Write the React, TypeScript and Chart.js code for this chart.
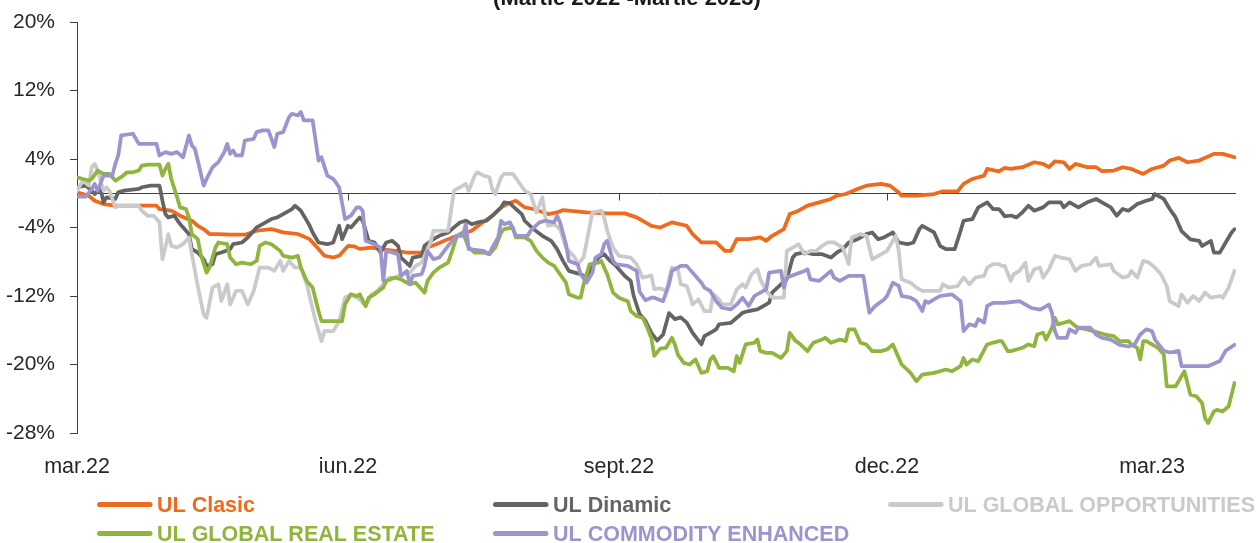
import React, { useEffect, useRef } from "react";
import { Chart, registerables } from "chart.js";

Chart.register(...registerables);

// ---------- labels ----------
const chartTitle = "(Martie 2022 -Martie 2023)";
const seriesNames = [
  "UL Clasic",
  "UL Dinamic",
  "UL GLOBAL OPPORTUNITIES",
  "UL GLOBAL REAL ESTATE",
  "UL COMMODITY ENHANCED",
];
const seriesColors = ["#EE6A1C", "#646464", "#CACACA", "#8FB53C", "#9C94CE"];

// x axis: days since 1 March 2022
const xTickDays = [0, 92, 184, 275, 365];
const xTickLabels = ["mar.22", "iun.22", "sept.22", "dec.22", "mar.23"];
const xMinDay = 0;
const xMaxDay = 393.5;

// y axis (percent)
const yTickValues = [-28, -20, -12, -4, 4, 12, 20];
const yMin = -28;
const yMax = 20;

// ---------- series ----------
const clasicDays = [
  0, 4, 6, 9, 13, 21, 27, 28, 32, 35,
  39, 41, 43, 45, 48, 52, 57, 61, 66, 70,
  75, 79, 82, 84, 87, 89, 92, 94, 96, 100,
  103, 108, 112, 117, 119, 122, 126, 129, 134, 137,
  141, 144, 146, 149, 152, 155, 160, 163, 165, 173,
  180, 186, 190, 193, 195, 198, 202, 207, 209, 212,
  217, 220, 222, 224, 228, 232, 234, 236, 240, 242,
  245, 248, 252, 256, 258, 261, 265, 268, 273, 276,
  279, 280, 285, 291, 294, 299, 301, 304, 308, 309,
  313, 315, 317, 321, 325, 328, 330, 332, 335, 337,
  339, 343, 346, 348, 352, 355, 358, 362, 365, 369,
  371, 374, 377, 381, 386, 389, 393,
];
const clasicValues = [
  0.1, -0.3, -0.87, -1.26, -1.45, -1.45, -1.45, -1.85, -2.04, -2.62,
  -3.2, -3.8, -4.18, -4.76, -4.76, -4.84, -4.84, -4.38, -4.18, -4.57,
  -4.76, -5.36, -6.52, -7.3, -7.5, -7.3, -6.15, -6.2, -6.5, -6.34,
  -6.53, -6.73, -6.92, -6.92, -6.34, -5.95, -5.36, -4.97, -4.38, -3.6,
  -2.63, -1.65, -1.26, -0.87, -1.65, -1.84, -2.43, -2.24, -1.96, -2.24,
  -2.35, -2.35, -2.82, -3.4, -3.8, -4.0, -3.4, -3.8, -4.77, -5.75,
  -5.75, -6.73, -6.73, -5.36, -5.36, -5.16, -5.55, -4.97, -4.19, -2.43,
  -2.04, -1.45, -1.06, -0.67, -0.28, -0.09, 0.5, 0.89, 1.09, 0.89,
  0.1, -0.28, -0.28, -0.09, 0.23, 0.23, 1.09, 1.67, 2.06, 2.84,
  2.55, 2.96, 2.84, 3.04, 3.62, 3.43, 3.04, 3.73, 3.62, 2.84,
  3.43, 3.04, 3.04, 2.57, 2.65, 3.04, 2.84, 2.26, 2.84, 3.23,
  3.82, 4.13, 3.62, 3.82, 4.6, 4.6, 4.21,
];

const dinamicDays = [
  0, 3, 5, 6, 8, 9, 10, 13, 14, 16,
  21, 22, 25, 28, 29, 30, 31, 33, 35, 38,
  39, 41, 43, 44, 46, 47, 49, 52, 53, 56,
  58, 60, 61, 63, 66, 68, 70, 73, 74, 76,
  78, 79, 80, 82, 85, 87, 89, 90, 92, 93,
  95, 96, 97, 99, 101, 103, 105, 107, 109, 110,
  113, 114, 117, 118, 121, 123, 126, 128, 130, 132,
  134, 136, 139, 141, 144, 145, 147, 149, 151, 152,
  155, 158, 161, 163, 165, 167, 169, 171, 173, 175,
  177, 179, 181, 183, 186, 188, 189, 191, 193, 195,
  197, 199, 201, 203, 205, 207, 209, 212, 213, 215,
  217, 218, 222, 224, 226, 228, 231, 233, 235, 236,
  239, 241, 243, 244, 247, 250, 253, 256, 258, 260,
  262, 265, 268, 270, 272, 274, 276, 277, 279, 282,
  284, 286, 287, 291, 293, 295, 298, 300, 301, 304,
  306, 308, 309, 311, 313, 314, 315, 317, 319, 321,
  323, 325, 328, 330, 334, 335, 337, 340, 343, 346,
  348, 351, 353, 355, 357, 360, 363, 365, 366, 369,
  371, 373, 375, 378, 381, 382, 385, 386, 388, 390,
  392, 393,
];
const dinamicValues = [
  0.7, 0.89, 0.3, -0.09, 0.5, -1.07, -0.48, -0.67, 0.11, 0.3,
  0.5, 0.7, 0.89, 0.89, -0.87, -2.43, -2.82, -2.62, -3.6, -4.77,
  -6.53, -6.92, -7.7, -8.48, -8.29, -7.12, -6.92, -6.53, -5.95, -5.75,
  -5.17, -4.38, -3.99, -3.6, -3.01, -2.82, -2.43, -1.84, -1.45, -2.04,
  -3.2, -3.8, -4.58, -5.75, -5.95, -5.75, -3.8, -5.36, -3.8, -3.99,
  -3.2, -2.82, -3.2, -5.55, -5.75, -6.92, -5.75, -5.55, -6.14, -7.51,
  -8.49, -7.51, -7.32, -6.14, -5.36, -4.97, -4.58, -3.99, -3.41, -3.21,
  -3.6, -3.41, -3.21, -2.63, -1.65, -1.06, -1.18, -1.84, -2.43, -3.21,
  -4.19, -4.97, -5.55, -6.53, -7.9, -9.07, -9.27, -9.46, -9.85, -8.49,
  -7.51, -7.12, -7.9, -8.49, -9.66, -10.24, -12.0, -14.1, -14.9, -16.3,
  -17.2, -16.5, -14.0, -14.7, -14.5, -15.1, -16.3, -17.66, -16.7, -16.3,
  -15.9, -15.3, -15.13, -14.54, -13.96, -13.76, -13.57, -13.17, -12.78, -11.6,
  -10.63, -10.05, -7.51, -7.12, -6.92, -7.12, -7.12, -7.51, -6.92, -6.53,
  -5.75, -5.36, -4.77, -4.58, -5.36, -5.16, -4.77, -4.58, -5.75, -5.95,
  -5.75, -4.19, -3.8, -4.58, -6.14, -6.53, -6.53, -4.38, -3.21, -3.02,
  -1.65, -1.26, -1.06, -1.84, -1.85, -2.24, -2.7, -2.6, -2.82, -2.23,
  -1.45, -2.04, -1.65, -1.06, -1.06, -1.65, -1.06, -1.65, -1.06, -0.67,
  -1.06, -1.65, -2.63, -1.84, -2.04, -1.26, -0.87, -0.67, -0.09, -0.67,
  -1.84, -2.82, -4.41, -5.38, -5.57, -6.16, -5.57, -6.93, -6.93, -5.75,
  -4.58, -4.19,
];

const globalOppDays = [
  0, 2, 4, 5, 6, 7, 9, 10, 11, 13,
  14, 17, 21, 22, 24, 26, 28, 29, 30, 31,
  32, 34, 36, 38, 39, 41, 43, 44, 46, 48,
  49, 51, 52, 54, 56, 58, 60, 62, 65, 67,
  69, 70, 72, 74, 76, 78, 81, 83, 84, 87,
  89, 91, 93, 96, 98, 100, 102, 104, 106, 108,
  110, 113, 115, 117, 120, 121, 124, 126, 127, 128,
  130, 132, 133, 135, 136, 138, 140, 141, 142, 144,
  145, 148, 150, 152, 154, 156, 158, 159, 160, 162,
  164, 166, 169, 170, 172, 174, 175, 178, 179, 180,
  182, 184, 188, 190, 192, 195, 196, 198, 200, 202,
  204, 205, 207, 208, 209, 211, 213, 215, 216, 218,
  219, 222, 224, 226, 227, 229, 231, 232, 234, 236,
  240, 241, 243, 245, 247, 249, 251, 253, 255, 257,
  260, 262, 263, 266, 268, 270, 271, 275, 278, 279,
  280, 283, 285, 287, 293, 294, 296, 299, 301, 303,
  305, 308, 309, 311, 313, 314, 315, 317, 318, 320,
  322, 323, 325, 327, 328, 330, 332, 334, 337, 339,
  341, 344, 346, 347, 351, 352, 355, 357, 358, 360,
  362, 364, 366, 368, 370, 371, 373, 374, 375, 377,
  379, 381, 383, 385, 388, 389, 391, 393,
];
const globalOppValues = [
  0.3, 1.48, 0.89, 3.04, 3.43, 2.65, 0.3, 0.7, 0.3, -1.65,
  -1.46, -1.46, -1.46, -2.04, -2.63, -2.63, -3.4, -7.7, -6.33, -4.77,
  -6.14, -6.33, -5.95, -5.16, -7.12, -10.83, -14.15, -14.54, -11.02, -10.63,
  -12.6, -10.63, -12.98, -11.41, -11.41, -12.98, -11.41, -8.68, -8.68, -9.07,
  -7.9, -9.07, -7.9, -8.68, -8.68, -10.63, -14.93, -17.27, -16.1, -16.1,
  -14.93, -12.2, -11.8, -12.4, -13.17, -11.8, -11.4, -10.63, -9.85, -9.85,
  -9.46, -9.27, -8.49, -8.1, -5.75, -4.38, -4.38, -4.38, -2.04, 0.3,
  0.7, 1.09, 0.3, 2.06, 2.45, 2.06, 1.87, 0.5, -0.09, 1.87,
  2.26, 2.26, 1.28, 0.3, -0.09, -2.24, -0.48, -2.82, -3.8, -3.6,
  -4.19, -6.34, -7.51, -8.29, -7.51, -3.99, -2.24, -2.04, -2.82, -4.38,
  -6.34, -7.32, -7.51, -8.29, -9.85, -9.6, -11.2, -11.1, -11.41, -8.68,
  -8.88, -10.63, -10.83, -11.8, -12.98, -12.39, -13.76, -13.76, -11.8, -12.39,
  -12.98, -12.98, -11.22, -10.63, -11.02, -9.46, -8.88, -10.05, -11.41, -12.2,
  -12.2, -6.73, -6.34, -5.95, -7.12, -6.73, -6.73, -6.14, -5.75, -5.75,
  -6.34, -8.29, -5.16, -4.77, -4.97, -7.71, -7.51, -6.73, -4.97, -6.73,
  -10.05, -10.44, -11.02, -11.41, -11.41, -10.63, -11.02, -10.83, -9.85, -10.63,
  -9.85, -9.66, -8.68, -8.29, -8.29, -8.49, -8.48, -10.24, -9.46, -9.07,
  -8.1, -10.24, -8.88, -8.68, -9.85, -8.88, -7.32, -7.51, -7.71, -9.07,
  -8.49, -8.29, -7.51, -8.49, -8.29, -9.07, -9.85, -9.66, -9.07, -9.85,
  -7.9, -8.1, -8.68, -9.46, -10.83, -12.6, -12.98, -13.18, -11.8, -12.78,
  -12.0, -12.6, -11.6, -12.2, -12.0, -12.2, -11.02, -9.07,
];

const realEstateDays = [
  0, 2, 4, 5, 7, 9, 11, 13, 15, 17,
  19, 21, 22, 24, 28, 29, 30, 31, 32, 34,
  35, 37, 38, 39, 41, 42, 44, 45, 47, 48,
  51, 52, 54, 56, 59, 61, 62, 64, 66, 69,
  70, 73, 75, 76, 78, 80, 82, 83, 88, 90,
  91, 93, 95, 96, 98, 99, 101, 104, 105, 108,
  110, 113, 115, 118, 119, 121, 123, 126, 127, 129,
  131, 133, 135, 138, 140, 142, 144, 145, 148, 149,
  152, 154, 156, 158, 160, 162, 164, 166, 167, 170,
  171, 172, 174, 177, 178, 180, 182, 184, 187, 188,
  190, 192, 193, 195, 196, 198, 200, 202, 203, 204,
  206, 208, 210, 211, 212, 214, 215, 216, 218, 221,
  223, 224, 225, 227, 230, 231, 232, 234, 236, 239,
  241, 242, 244, 245, 248, 250, 253, 254, 256, 259,
  261, 262, 264, 266, 268, 270, 273, 275, 277, 278,
  280, 283, 285, 287, 291, 293, 295, 297, 300, 301,
  302, 304, 306, 309, 311, 313, 314, 316, 317, 319,
  321, 323, 325, 326, 328, 329, 331, 332, 333, 335,
  337, 339, 340, 343, 345, 347, 349, 352, 354, 357,
  358, 360, 361, 362, 363, 365, 367, 369, 370, 373,
  375, 376, 378, 380, 382, 383, 384, 386, 387, 389,
  391, 392, 393,
];
const realEstateValues = [
  1.87, 1.67, 1.48, 1.67, 2.65, 2.26, 2.26, 1.48, 1.87, 2.45,
  2.45, 2.65, 3.23, 3.35, 3.35, 2.06, 2.84, 3.43, 1.67, -0.48,
  -1.65, -1.85, -2.82, -4.77, -5.36, -7.12, -9.27, -8.68, -6.34, -5.75,
  -5.95, -7.51, -8.29, -8.1, -8.29, -7.9, -6.14, -5.75, -5.95, -6.73,
  -7.32, -7.51, -7.32, -8.68, -10.24, -11.02, -13.76, -14.93, -14.93, -14.93,
  -12.98, -11.8, -12.0, -11.8, -13.18, -12.2, -11.8, -11.02, -10.24, -9.85,
  -10.05, -10.63, -10.44, -11.61, -10.24, -9.27, -8.68, -8.1, -7.12, -4.97,
  -4.58, -6.34, -6.92, -6.92, -7.12, -6.34, -4.58, -4.19, -3.99, -5.16,
  -5.16, -5.55, -6.73, -7.51, -8.1, -8.49, -9.46, -10.44, -11.8, -12.2,
  -12.2, -10.63, -8.29, -8.1, -7.9, -9.46, -11.6, -12.2, -12.6, -13.76,
  -14.34, -14.54, -15.2, -16.9, -19.0, -18.15, -18.05, -16.88, -17.66, -18.84,
  -19.81, -20.0, -19.42, -20.2, -20.98, -20.79, -19.42, -19.03, -20.4, -20.4,
  -20.79, -19.03, -19.81, -17.66, -17.46, -17.08, -18.44, -18.64, -18.64, -19.23,
  -18.44, -16.3, -17.27, -17.46, -18.44, -17.46, -17.08, -16.88, -17.46, -17.08,
  -17.27, -15.9, -15.9, -17.46, -17.66, -18.44, -18.44, -18.25, -17.66, -18.44,
  -20.0, -20.98, -21.96, -21.18, -20.98, -20.79, -20.59, -20.79, -20.2, -19.23,
  -20.0, -19.42, -19.62, -17.66, -17.46, -17.27, -17.27, -18.44, -18.44, -18.25,
  -18.05, -17.66, -17.86, -16.5, -16.3, -17.08, -15.71, -14.54, -15.32, -15.13,
  -14.93, -15.52, -15.71, -15.91, -16.1, -16.3, -16.5, -16.69, -17.27, -17.27,
  -17.66, -18.05, -19.42, -17.27, -17.27, -17.66, -18.05, -18.84, -22.55, -22.55,
  -21.38, -20.79, -23.52, -23.71, -24.5, -26.26, -26.84, -25.48, -25.29, -25.48,
  -24.88, -23.52, -22.16,
];

const commodityDays = [
  0, 3, 5, 6, 7, 9, 12, 13, 14, 15,
  19, 21, 27, 28, 30, 32, 34, 36, 38, 39,
  40, 41, 43, 44, 46, 48, 50, 51, 52, 53,
  54, 56, 57, 60, 61, 63, 65, 67, 68, 70,
  72, 73, 75, 76, 77, 80, 82, 83, 85, 87,
  89, 91, 93, 95, 96, 97, 98, 101, 103, 104,
  105, 107, 109, 110, 112, 113, 114, 117, 118, 119,
  121, 123, 126, 127, 129, 131, 132, 133, 138, 140,
  141, 143, 144, 145, 147, 149, 153, 154, 157, 159,
  162, 163, 164, 166, 167, 170, 171, 173, 175, 176,
  178, 179, 180, 182, 183, 187, 190, 191, 193, 195,
  196, 199, 201, 202, 205, 207, 209, 210, 212, 213,
  215, 217, 219, 222, 224, 226, 228, 230, 232, 234,
  235, 239, 240, 241, 247, 248, 249, 252, 256, 257,
  259, 262, 267, 269, 271, 274, 275, 277, 279, 280,
  283, 285, 287, 288, 289, 291, 293, 297, 300, 301,
  303, 305, 306, 308, 309, 311, 313, 315, 320, 324,
  327, 329, 330, 331, 332, 333, 336, 337, 339, 340,
  344, 346, 348, 351, 352, 354, 357, 359, 361, 363,
  365, 366, 369, 371, 374, 375, 384, 388, 390, 393,
];
const commodityValues = [
  -0.4, -0.4, 0.5, 1.09, 0.3, 2.06, 2.06, 3.43, 4.41, 6.75,
  6.95, 5.77, 5.77, 4.41, 4.8, 4.6, 4.8, 4.2, 6.75, 5.58,
  5.19, 3.82, 0.89, 1.67, 3.04, 3.63, 4.8, 5.77, 4.6, 4.99,
  4.41, 4.41, 6.16, 6.36, 7.14, 7.34, 7.34, 5.38, 6.95, 7.14,
  8.9, 9.29, 9.09, 9.48, 8.51, 8.51, 3.82, 4.21, 2.06, 1.67,
  0.7, -3.01, -2.62, -1.64, -1.66, -2.04, -5.55, -5.96, -6.34, -10.24,
  -6.73, -6.92, -7.12, -9.66, -9.07, -10.63, -9.66, -9.46, -8.48, -6.73,
  -7.7, -7.51, -6.14, -5.75, -4.97, -4.97, -3.6, -6.53, -6.73, -7.12,
  -6.34, -5.16, -3.21, -3.6, -3.4, -4.97, -4.97, -4.38, -3.4, -3.21,
  -3.4, -2.62, -3.4, -5.94, -7.9, -8.29, -9.46, -10.44, -9.27, -7.51,
  -7.12, -5.94, -5.55, -7.9, -8.29, -8.49, -9.07, -11.5, -12.5, -12.2,
  -12.2, -12.6, -10.63, -9.07, -8.48, -8.48, -9.27, -9.66, -10.44, -11.02,
  -11.41, -12.6, -13.37, -13.56, -12.98, -12.2, -13.17, -12.0, -11.6, -11.22,
  -9.27, -9.07, -11.02, -9.85, -9.07, -8.88, -10.05, -10.24, -9.07, -9.85,
  -10.24, -9.66, -9.66, -13.95, -13.17, -12.4, -12.0, -10.44, -10.83, -12.0,
  -12.2, -12.6, -13.76, -12.6, -12.8, -12.4, -12.0, -11.8, -12.6, -16.1,
  -15.3, -15.5, -14.7, -15.1, -13.17, -12.8, -12.8, -12.8, -12.6, -13.4,
  -13.6, -13.2, -13.0, -13.96, -16.1, -16.9, -16.9, -15.9, -16.3, -15.7,
  -15.7, -16.5, -16.9, -17.1, -17.3, -17.7, -17.9, -17.7, -16.5, -15.9,
  -16.1, -17.1, -18.4, -18.6, -18.4, -20.2, -20.2, -19.6, -18.4, -17.7,
];

const seriesDays = [clasicDays, dinamicDays, globalOppDays, realEstateDays, commodityDays];
const seriesValues = [clasicValues, dinamicValues, globalOppValues, realEstateValues, commodityValues];

// ---------- styling ----------
const FONT = "'Liberation Sans', Arial, sans-serif";
const AXIS_COLOR = "#404040";
const TEXT_COLOR = "#262626";

const zeroLinePlugin = {
  id: "zeroLine",
  beforeDatasetsDraw(chart: any) {
    const { ctx, chartArea, scales } = chart;
    const y0 = Math.round(scales.y.getPixelForValue(0)) + 0.5;
    ctx.save();
    ctx.strokeStyle = AXIS_COLOR;
    ctx.lineWidth = 1;
    ctx.beginPath();
    ctx.moveTo(chartArea.left, y0);
    ctx.lineTo(chartArea.right, y0);
    xTickDays.forEach((d) => {
      const x = Math.round(scales.x.getPixelForValue(d)) + 0.5;
      ctx.moveTo(x, y0);
      ctx.lineTo(x, y0 + 7);
    });
    ctx.stroke();
    ctx.restore();
  },
};

const titlePlugin = {
  id: "cutTitle",
  afterDraw(chart: any) {
    const { ctx } = chart;
    ctx.save();
    ctx.font = `bold 22px ${FONT}`;
    ctx.fillStyle = "#1a1a1a";
    ctx.textAlign = "center";
    ctx.textBaseline = "alphabetic";
    ctx.fillText(chartTitle, 627, 5);
    ctx.restore();
  },
};

const legendCols = [97, 493, 888];
const legendRows = [504.5, 533.5];

const legendPlugin = {
  id: "customLegend",
  afterDraw(chart: any) {
    const { ctx } = chart;
    ctx.save();
    chart.data.datasets.forEach((ds: any, i: number) => {
      const x0 = legendCols[i % 3];
      const y = legendRows[Math.floor(i / 3)];
      ctx.strokeStyle = ds.borderColor;
      ctx.lineWidth = 5;
      ctx.lineCap = "round";
      ctx.beginPath();
      ctx.moveTo(x0 + 2.5, y);
      ctx.lineTo(x0 + 53, y);
      ctx.stroke();
      ctx.font = `bold 21.5px ${FONT}`;
      ctx.fillStyle = ds.borderColor;
      ctx.textAlign = "left";
      ctx.textBaseline = "alphabetic";
      ctx.fillText(ds.label, x0 + 60, y + 7.5);
    });
    ctx.restore();
  },
};

export default function App() {
  const canvasRef = useRef<HTMLCanvasElement | null>(null);

  useEffect(() => {
    const canvas = canvasRef.current;
    if (!canvas) return;
    const datasets = seriesNames.map((name, i) => ({
      label: name,
      data: seriesDays[i].map((d, j) => ({ x: d, y: seriesValues[i][j] })),
      borderColor: seriesColors[i],
      backgroundColor: seriesColors[i],
      borderWidth: 3.75,
      pointRadius: 0,
      pointHoverRadius: 0,
      tension: 0,
      fill: false,
      borderJoinStyle: "round" as const,
      borderCapStyle: "round" as const,
      order: seriesNames.length - i,
    }));

    const chart = new Chart(canvas, {
      type: "line",
      data: { datasets },
      options: {
        animation: false,
        responsive: false,
        devicePixelRatio: 1,
        events: [],
        layout: { padding: { left: 0, right: 20, top: 22, bottom: 0 } },
        plugins: {
          legend: { display: false },
          title: { display: false },
          tooltip: { enabled: false },
        },
        scales: {
          x: {
            type: "linear",
            min: xMinDay,
            max: xMaxDay,
            grid: { display: false },
            border: { display: false },
            afterBuildTicks: (scale: any) => {
              scale.ticks = xTickDays.map((v) => ({ value: v }));
            },
            afterFit: (scale: any) => {
              scale.height = 110;
              scale.paddingLeft = 0;
              scale.paddingRight = 0;
            },
            ticks: {
              autoSkip: false,
              maxRotation: 0,
              minRotation: 0,
              padding: 13,
              color: TEXT_COLOR,
              font: { family: FONT, size: 21.5 },
              callback: (v: any) => {
                const idx = xTickDays.indexOf(Number(v));
                return idx >= 0 ? xTickLabels[idx] : "";
              },
            },
          },
          y: {
            type: "linear",
            min: yMin,
            max: yMax,
            afterBuildTicks: (scale: any) => {
              scale.ticks = yTickValues.map((v) => ({ value: v }));
            },
            afterFit: (scale: any) => {
              scale.width = 77;
              scale.paddingTop = 0;
              scale.paddingBottom = 0;
            },
            grid: {
              display: true,
              drawOnChartArea: false,
              drawTicks: true,
              tickLength: 7,
              color: AXIS_COLOR,
              lineWidth: 1,
            },
            border: { display: true, color: AXIS_COLOR, width: 1 },
            ticks: {
              padding: 15,
              color: TEXT_COLOR,
              font: { family: FONT, size: 21 },
              callback: (v: any) => `${v}%`,
            },
          },
        },
      },
      plugins: [zeroLinePlugin, titlePlugin, legendPlugin],
    });

    return () => chart.destroy();
  }, []);

  return (
    <div style={{ position: "fixed", left: 0, top: 0, width: 1256, height: 543, background: "#ffffff" }}>
      <canvas ref={canvasRef} width={1256} height={543} style={{ display: "block" }} />
    </div>
  );
}
